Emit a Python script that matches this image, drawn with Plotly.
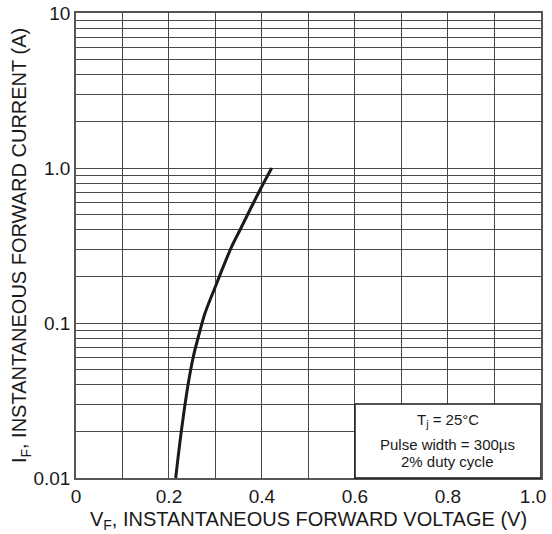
import plotly.graph_objects as go

# Curve data
vf = [0.2144, 0.2215, 0.2308, 0.2415, 0.2523, 0.2652, 0.2774, 0.3025, 0.3168, 0.3348, 0.3527, 0.374, 0.3993, 0.421]
i_f = [0.010, 0.0152, 0.0249, 0.0408, 0.0606, 0.0858, 0.1155, 0.180, 0.231, 0.311, 0.398, 0.536, 0.757, 1.0]

x_tickvals = [0, 0.2, 0.4, 0.6, 0.8, 1.0]
x_ticktext = ["0", "0.2", "0.4", "0.6", "0.8", "1.0\u00a0\u00a0\u00a0"]
x_minor = [0.1, 0.3, 0.5, 0.7, 0.9]
y_tickvals = [0.01, 0.1, 1, 10]
y_ticktext = ["0.01", "0.1", "1.0", "10"]
decades = [0.01, 0.1, 1]
y_minor = [d * k for d in decades for k in range(2, 10)]

legend_lines = ["T<sub>j</sub> = 25°C", "Pulse width = 300µs", "2% duty cycle"]

FONT = "Liberation Sans, Arial, sans-serif"
GRID = "#4a4a4a"

fig = go.Figure()
fig.add_trace(go.Scatter(x=vf, y=i_f, mode="lines",
                         line=dict(color="#1a1a1a", width=3, shape="spline", smoothing=1.0),
                         showlegend=False, hoverinfo="skip"))

fig.update_layout(
    width=552, height=534,
    margin=dict(l=76, r=11, t=13, b=56),
    paper_bgcolor="white", plot_bgcolor="white",
    font=dict(family=FONT, color="#1a1a1a", size=19),
    showlegend=False,
)

fig.update_xaxes(
    range=[0, 1.0001], tickmode="array", tickvals=x_tickvals, ticktext=x_ticktext,
    showgrid=True, gridcolor=GRID, gridwidth=1,
    minor=dict(tickmode="array", tickvals=x_minor, showgrid=True, gridcolor=GRID, gridwidth=1),
    showline=True, linecolor="#555", linewidth=1.5, mirror=True,
    ticks="", tickfont=dict(size=19, family=FONT), ticklabeloverflow="allow",
    zeroline=False, automargin=False,
    title=dict(text="V<sub>F</sub>, INSTANTANEOUS FORWARD VOLTAGE (V)",
               font=dict(size=20, family=FONT), standoff=6),
)
fig.update_yaxes(
    type="log", range=[-2, 1.0001], tickmode="array", tickvals=y_tickvals, ticktext=y_ticktext,
    showgrid=True, gridcolor=GRID, gridwidth=1,
    minor=dict(tickmode="array", tickvals=y_minor, showgrid=True, gridcolor=GRID, gridwidth=1),
    showline=True, linecolor="#555", linewidth=1.5, mirror=True,
    ticks="", tickfont=dict(size=19, family=FONT), ticklabeloverflow="allow",
    zeroline=False, automargin=False,
    title=dict(text="I<sub>F</sub>, INSTANTANEOUS FORWARD CURRENT (A)",
               font=dict(size=20, family=FONT), standoff=1),
)

# Condition box
fig.add_shape(type="rect", xref="x", yref="paper", x0=0.6, x1=1.0, y0=0, y1=0.159,
              fillcolor="white", line=dict(color="#1a1a1a", width=1.5), layer="above")
for txt, yy in zip(legend_lines, [0.123, 0.072, 0.036]):
    fig.add_annotation(x=0.8, y=yy, xref="x", yref="paper", text=txt, showarrow=False,
                       font=dict(size=15, family=FONT, color="#1a1a1a"),
                       xanchor="center", yanchor="middle")

fig.write_html("out.html")
